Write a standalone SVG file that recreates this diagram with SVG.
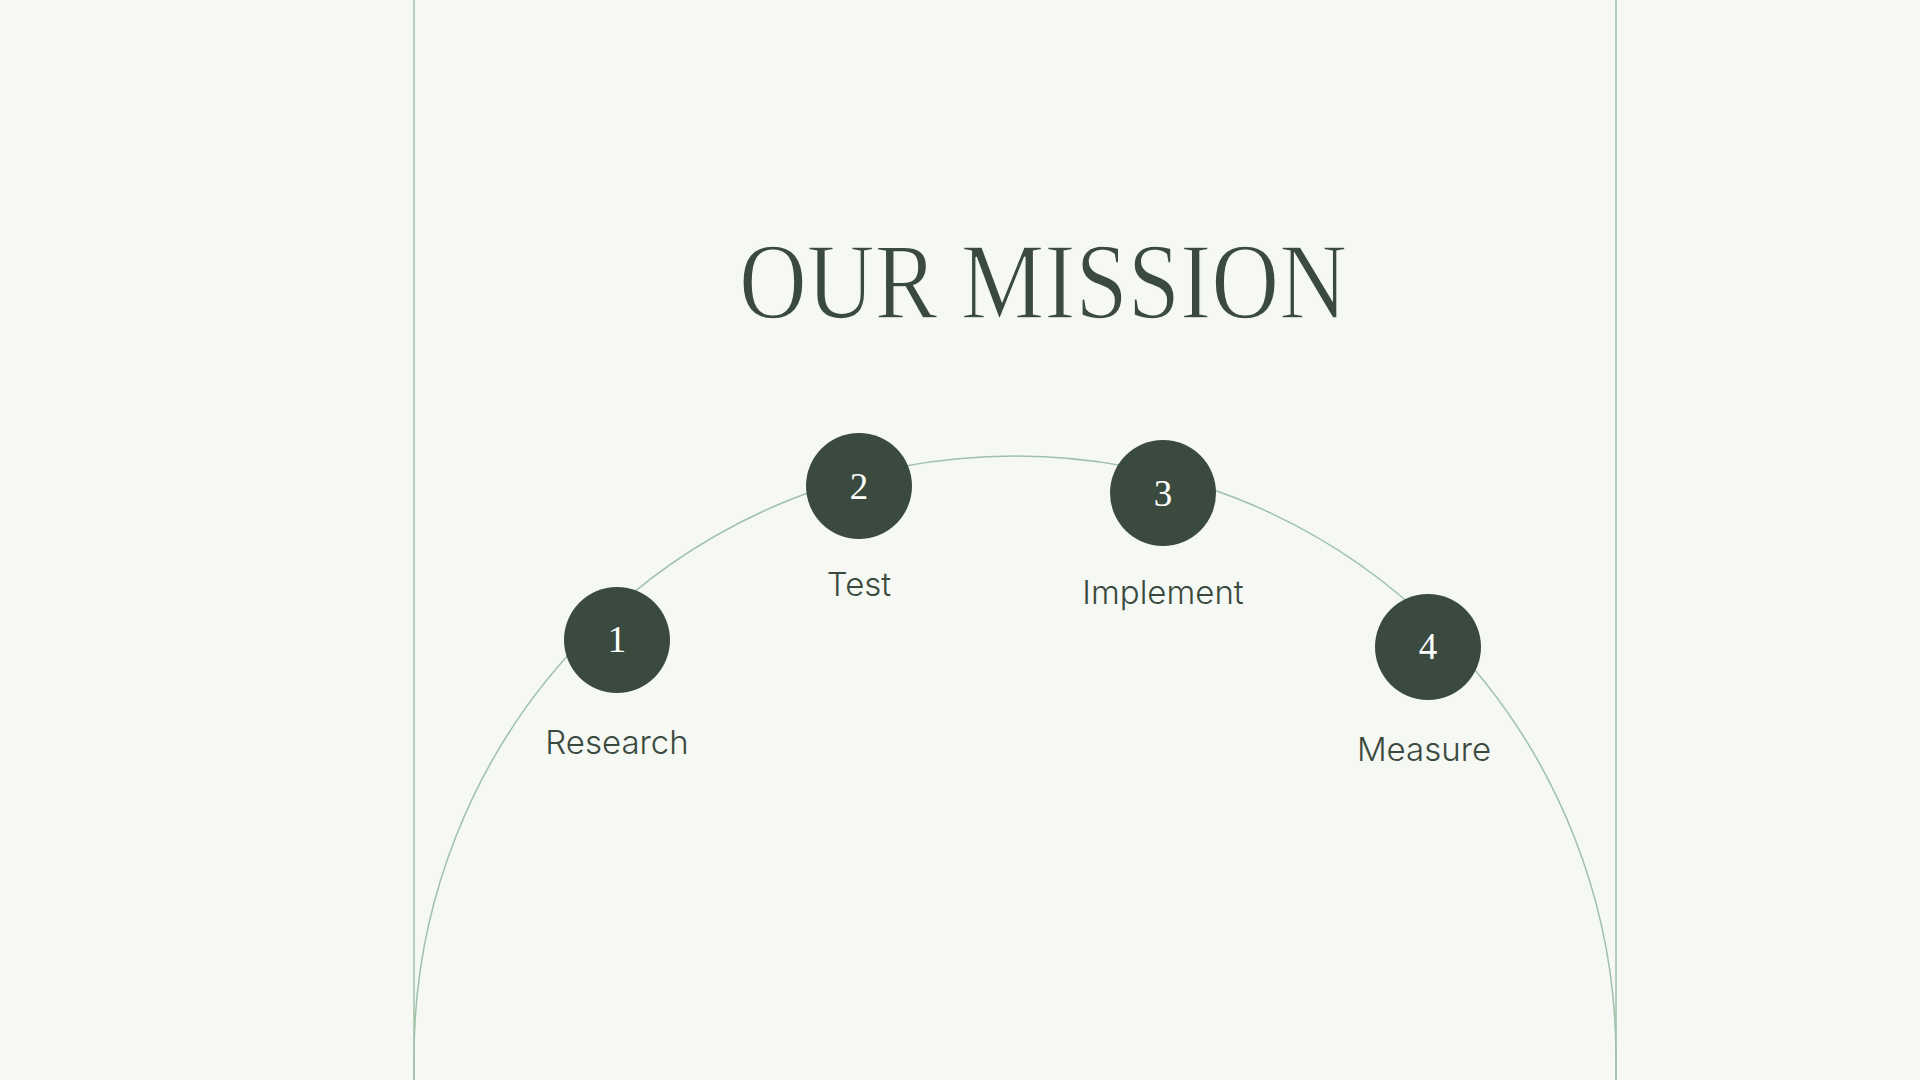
<svg xmlns="http://www.w3.org/2000/svg" width="1920" height="1080" viewBox="0 0 1920 1080">
<style>
.frame{fill:none;stroke:#9fc1aa;stroke-width:1.5}
.dot{fill:#3b4a3e}
.num{font-family:"Liberation Serif",serif;font-size:37px;fill:#ffffff;text-anchor:middle}
.lbl{font-family:Inter,"Liberation Sans",sans-serif;font-weight:300;font-size:33px;fill:#3b4a3e;text-anchor:middle}
.title{font-family:"Liberation Serif",serif;font-size:107px;fill:#3b4a3e;text-anchor:middle;stroke:#f5f8f3;stroke-width:1.6}
</style>
<rect width="1920" height="1080" fill="#f5f8f3"/>
<g id="connectors">
<line class="frame" x1="414" y1="0" x2="414" y2="1080"/>
<line class="frame" x1="1616" y1="0" x2="1616" y2="1080"/>
<path class="frame" d="M414,1080 L414,1057 A601,601 0 0 1 1616,1057 L1616,1080"/>
</g>
<g id="title">
<text class="title" x="1043" y="318" textLength="608" lengthAdjust="spacingAndGlyphs">OUR MISSION</text>
</g>
<g id="node1">
<circle class="dot" cx="617" cy="640" r="53"/>
<text class="num" x="617" y="652">1</text>
<text class="lbl" x="617" y="754">Research</text>
</g>
<g id="node2">
<circle class="dot" cx="859" cy="486" r="53"/>
<text class="num" x="859" y="499">2</text>
<text class="lbl" x="859" y="596">Test</text>
</g>
<g id="node3">
<circle class="dot" cx="1163" cy="493" r="53"/>
<text class="num" x="1163" y="506">3</text>
<text class="lbl" x="1163" y="604">Implement</text>
</g>
<g id="node4">
<circle class="dot" cx="1428" cy="647" r="53"/>
<text class="num" x="1428" y="659">4</text>
<text class="lbl" x="1424" y="761">Measure</text>
</g>
</svg>
